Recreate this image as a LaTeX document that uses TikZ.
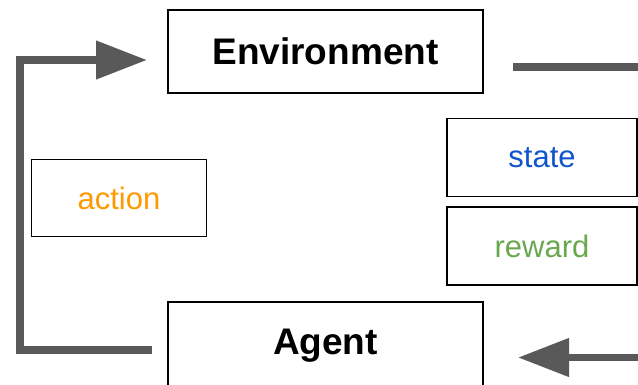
\documentclass[tikz,border=0pt]{standalone}
\usepackage{fontspec}
\setmainfont{Liberation Sans}
\usetikzlibrary{arrows.meta}
\definecolor{conn}{HTML}{595959}
\definecolor{actc}{HTML}{FF9900}
\definecolor{statec}{HTML}{1155CC}
\definecolor{rewc}{HTML}{6AA84F}
\tikzset{
  bigbox/.style={draw=black, line width=1.9pt, rectangle, inner sep=0pt, minimum width=315pt, font=\fontsize{37}{44}\selectfont\bfseries},
  smallbox/.style={draw=black, line width=1.9pt, rectangle, inner sep=0pt, font=\fontsize{31}{37}\selectfont},
  connline/.style={draw=conn, line width=7.5pt, line join=miter},
  bighead/.style={-{Triangle[length=51pt,width=37pt]}}
}
\begin{document}
\begin{tikzpicture}[x=1pt,y=-1pt]
\useasboundingbox (0,0) rectangle (638,384);
\node[bigbox, minimum height=83pt] (env) at (325.5,51.5) {Environment};
\node[bigbox, minimum height=87pt] (agent) at (325.5,345.5) {\raisebox{1.5pt}{Agent}};
\node[smallbox, minimum width=175pt, minimum height=77pt, text=actc] (action) at (119,198) {action};
\node[smallbox, minimum width=190pt, minimum height=78pt, text=statec] (state) at (542,157.5) {state};
\node[smallbox, minimum width=190pt, minimum height=78pt, text=rewc] (reward) at (542,246) {reward};
\coordinate (lstart) at (152,350);
\coordinate (lcornerb) at (20,350);
\coordinate (lcornert) at (20,60);
\coordinate (ltip) at (147,60);
\draw[connline, bighead] (lstart) -- (lcornerb) -- (lcornert) -- (ltip);
\coordinate (tstart) at (513,67);
\coordinate (tend) at (640,67);
\draw[connline] (tstart) -- (tend);
\coordinate (bstart) at (640,357.5);
\coordinate (btip) at (518,357.5);
\draw[connline, bighead] (bstart) -- (btip);
\end{tikzpicture}
\end{document}
